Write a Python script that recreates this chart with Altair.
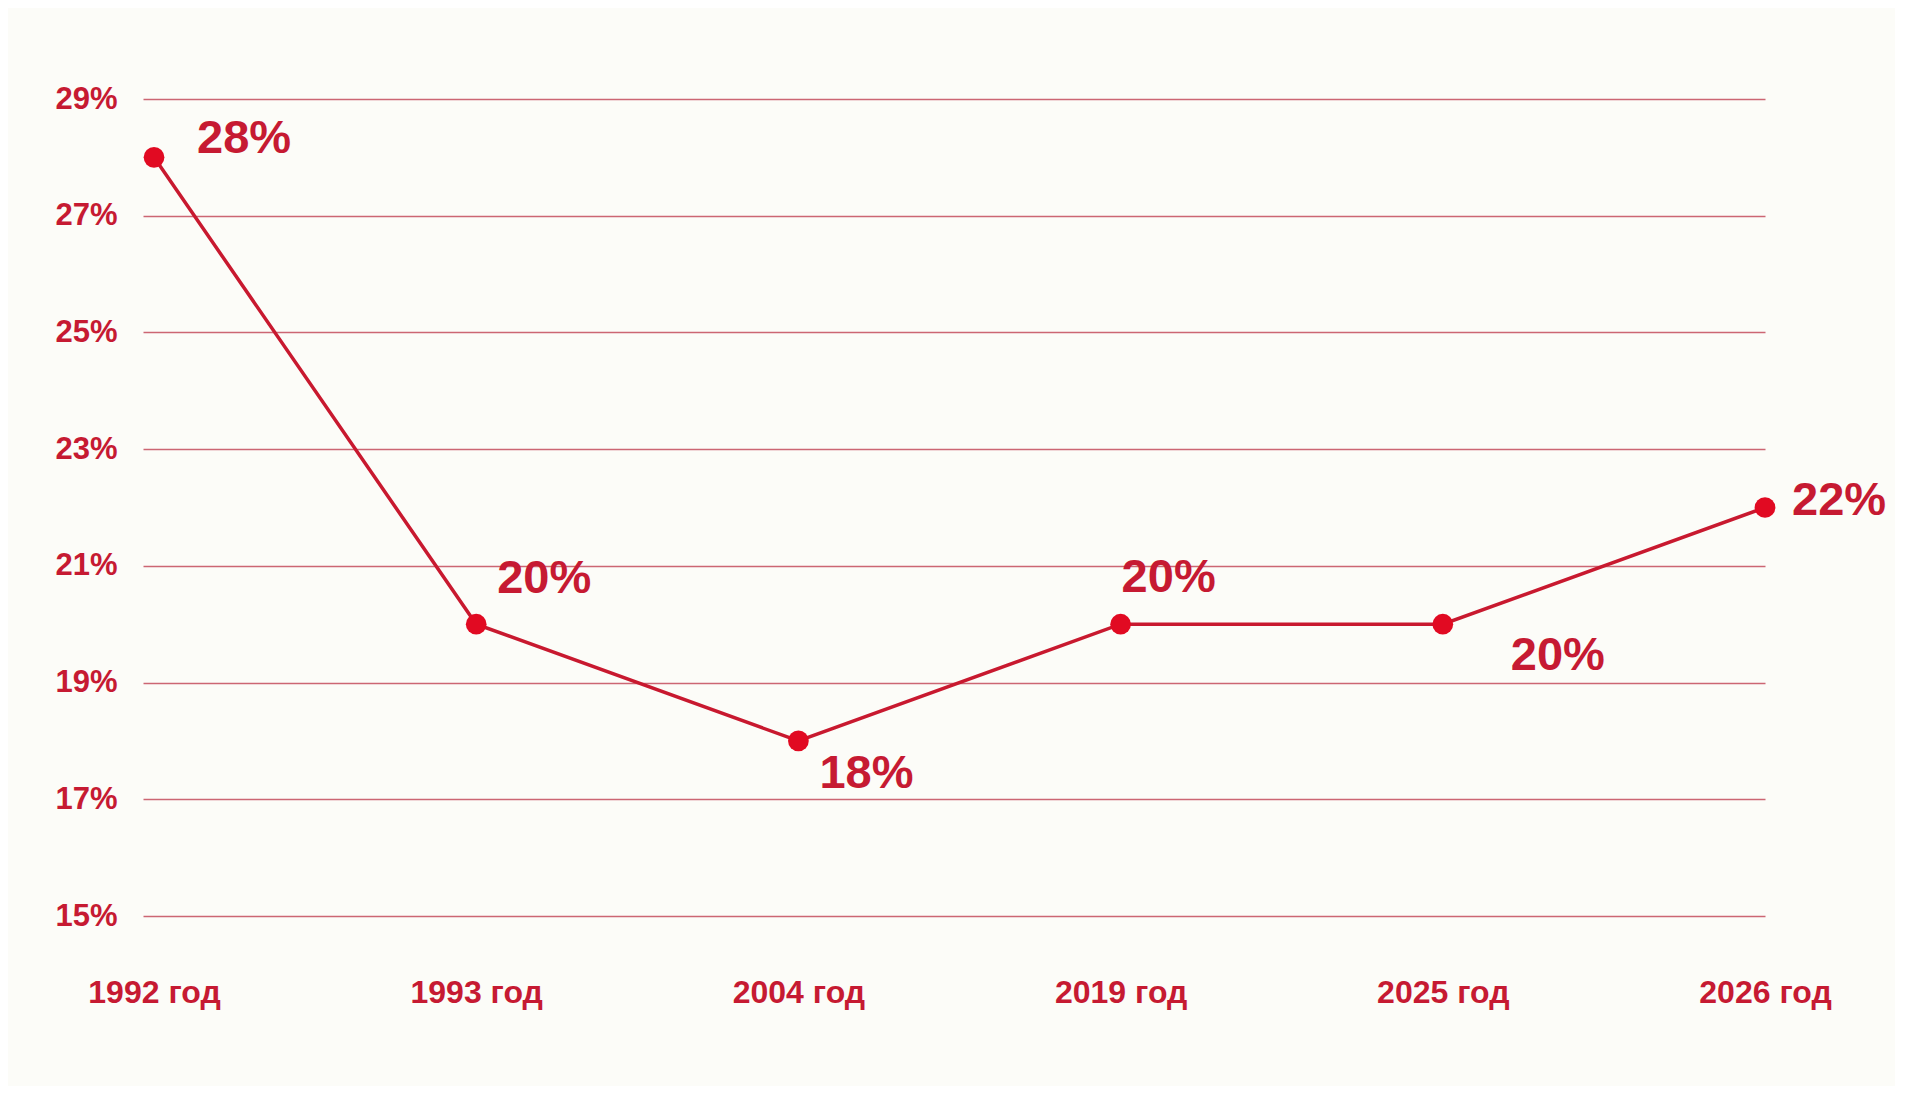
import altair as alt
import pandas as pd

# ---- data ----
years = ["1992 год", "1993 год", "2004 год", "2019 год", "2025 год", "2026 год"]
values = [28, 20, 18, 20, 20, 22]
y_ticks = [15, 17, 19, 21, 23, 25, 27, 29]

df = pd.DataFrame({"year": years, "value": values})
df["text"] = df["value"].astype(str) + "%"

# ---- styles ----
TEXT_RED = "#c61a32"
LINE_RED = "#c8192f"
DOT_RED = "#e10a22"
GRID = "#cc6673"
BG = "#fcfcf8"
FONT = "Liberation Sans"

# label offsets (style): year -> (dx, dy)
label_offsets = {
    "1992 год": (43, -18),
    "1993 год": (21, -45),
    "2004 год": (21, 33),
    "2019 год": (1, -46),
    "2025 год": (68, 32),
    "2026 год": (27, -7),
}

x_enc = alt.X(
    "year:N",
    sort=years,
    scale=alt.Scale(type="point", padding=0.0171, align=1),
    axis=alt.Axis(
        title=None, labelAngle=0, ticks=False, domain=False, grid=False,
        labelPadding=61, labelFontSize=32, labelFontWeight="bold",
        labelColor=TEXT_RED, labelFont=FONT,
    ),
)
y_enc = alt.Y(
    "value:Q",
    scale=alt.Scale(domain=[15, 29], nice=False, zero=False),
    axis=alt.Axis(
        title=None, values=y_ticks, labelExpr="datum.value + '%'",
        ticks=False, domain=False, labelPadding=26, labelFontSize=31,
        labelFontWeight="bold", labelColor=TEXT_RED, labelFont=FONT,
        grid=True, gridColor=GRID, gridWidth=1.3,
    ),
)

base = alt.Chart(df).encode(x=x_enc, y=y_enc)

line = base.mark_line(color=LINE_RED, strokeWidth=3.5)
dots = base.mark_point(filled=True, color=DOT_RED, size=430, opacity=1)

texts = []
for yr in years:
    dx, dy = label_offsets[yr]
    texts.append(
        base.transform_filter(alt.datum.year == yr)
        .mark_text(
            align="left", baseline="middle", dx=dx, dy=dy,
            fontSize=47, fontWeight="bold", font=FONT, color=TEXT_RED,
        )
        .encode(text="text:N")
    )

chart = (
    alt.layer(line, dots, *texts)
    .properties(
        width=1622,
        height=817,
        autosize=alt.AutoSizeParams(type="none"),
        padding={"left": 135, "top": 91, "right": 130, "bottom": 170},
        background=BG,
    )
    .configure_view(stroke=None)
)

chart.save("out.html", embed_options={"renderer": "svg", "actions": False})
